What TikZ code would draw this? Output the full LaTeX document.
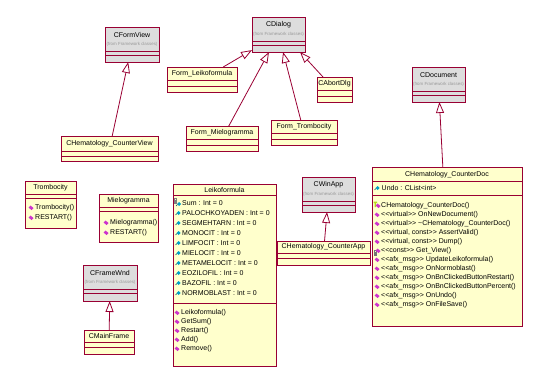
\documentclass[tikz,border=0pt]{standalone}
\usepackage{fontspec}
\setmainfont{Liberation Sans}
\usetikzlibrary{arrows.meta}
\definecolor{umlred}{HTML}{990033}
\definecolor{umlyellow}{HTML}{FFFFCC}
\definecolor{umlgray}{HTML}{DDDDDD}
\definecolor{umlmag}{HTML}{CC33CC}
\definecolor{umlteal}{HTML}{00A0C8}
\newcommand{\stereo}[1]{<\kern0pt<#1>\kern0pt> }
\newcommand{\opicon}[2]{\fill[umlmag] (#1,{#2}) ++(-2.5,-0.5) -- ++(2,-2) -- ++(3,2.5) -- ++(-2,2) -- cycle;}
\newcommand{\attricon}[2]{\fill[umlteal] (#1,{#2}) ++(-2,0) -- ++(2,-2) -- ++(2,2) -- ++(-2,2) -- cycle;
  \draw[umlteal!50!black, line width=0.5pt] (#1,{#2}) ++(-1.5,0.5) -- ++(-1.5,1.5);}
\tikzset{
  cls/.style={draw=umlred, fill=umlyellow, line width=0.8pt, anchor=north west, inner sep=0pt, outer sep=0pt},
  libcls/.style={cls, fill=umlgray},
  cname/.style={font=\fontsize{7}{8}\selectfont, inner sep=0pt},
  cfrom/.style={font=\fontsize{4.4}{5}\selectfont, text=black!40, inner sep=0pt},
  member/.style={font=\fontsize{7}{8}\selectfont, anchor=west, inner sep=0pt},
  compart/.style={draw=umlred, line width=0.8pt},
  gen/.style={draw=umlred, line width=0.8pt, -{Triangle[open, length=11pt, width=8pt]}}
}

\begin{document}
\begin{tikzpicture}[x=1pt, y=-1pt]
  \useasboundingbox (0,0) rectangle (548,382);
  \foreach \n/\x/\y/\w/\h in {formview/105/27/54/35, dialog/252/17/53/35, document/412/67/53/35, winapp/302/177/53/35, framewnd/83/265/54/36}
    \node[libcls, minimum width=\w pt, minimum height=\h pt] (\n) at (\x,\y) {};
  \foreach \n/\x/\y/\w/\h in {counterview/61/136/97/25, formleiko/167/67/70/25, formmielo/186/126/72/25, formtromb/271/120/66/25, abortdlg/317/77/35/25, counterdoc/372/167/150/159, leikoformula/173/184/103/182, counterapp/277/241/93/24, trombocity/25/181/51/47, mielogramma/99/194/59/48, mainframe/84/330/50/24}
    \node[cls, minimum width=\w pt, minimum height=\h pt] (\n) at (\x,\y) {};
  \foreach \xa/\xb/\y in {105/159/51, 105/159/55, 252/305/41, 252/305/45, 412/465/91, 412/465/95, 302/355/201, 302/355/205, 83/137/289, 83/137/293, 61/158/151, 61/158/156, 167/237/80, 167/237/86, 186/258/139, 186/258/145, 271/337/133, 271/337/139, 317/352/90, 317/352/96, 372/522/181, 372/522/195, 173/276/195, 173/276/303, 277/370/253, 277/370/258, 25/76/194, 25/76/198, 99/158/207, 99/158/211, 84/134/342, 84/134/347}
    \draw[compart] (\xa,\y) -- (\xb,\y);

  \foreach \n/\x/\y/\t in {formview/132/35/CFormView, dialog/278.5/25/CDialog, document/438.5/75/CDocument, winapp/328.5/185/CWinApp, framewnd/110/273/CFrameWnd} {
    \node[cname] (\n-name) at (\x,\y) {\t};
    \node[cfrom] (\n-from) at (\x,{\y+9}) {(from Framework classes)};
  }
  \foreach \n/\x/\y/\t in {counterview/109.5/144/CHematology\_CounterView, formleiko/202/74/Form\_Leikoformula, formmielo/222/132.5/Form\_Mielogramma, formtromb/304/127/Form\_Trombocity, abortdlg/334.5/84/CAbortDlg, counterdoc/447/175/CHematology\_CounterDoc, leikoformula/224.5/190/Leikoformula, counterapp/323.5/247/CHematology\_CounterApp, trombocity/50.5/188/Trombocity, mielogramma/128.5/201/Mielogramma, mainframe/109/336/CMainFrame}
    \node[cname] (\n-name) at (\x,\y) {\t};

  \foreach \t [count=\i from 0] in {Trombocity(), RESTART()} {
    \opicon{31}{208+10*\i}
    \node[member] (trombop\i) at (35,{208+10*\i}) {\t};
  }
  \foreach \t [count=\i from 0] in {Mielogramma(), RESTART()} {
    \opicon{106}{223+10*\i}
    \node[member] (mielop\i) at (110,{223+10*\i}) {\t};
  }

  \foreach \t [count=\i from 0] in {Sum : Int = 0, PALOCHKOYADEN : Int = 0, SEGMEHTARN : Int = 0, MONOCIT : Int = 0, LIMFOCIT : Int = 0, MIELOCIT : Int = 0, METAMELOCIT : Int = 0, EOZILOFIL : Int = 0, BAZOFIL : Int = 0, NORMOBLAST : Int = 0}
    \node[member] (leikoattr\i) at (182,{203+10*\i}) {\t};
  \foreach \i in {1,...,9} { \attricon{178.5}{203+10*\i} }
  \fill[black!50] (173.5,200) rectangle (177,203.5);
  \draw[black!50, line width=0.5pt] (174.2,200) -- (174.2,198.3) -- (176.3,198.3) -- (176.3,200);
  \attricon{179}{204}
  \foreach \t [count=\i from 0] in {Leikoformula(), GetSum(), Restart(), Add(), Remove()} {
    \opicon{177}{313+9*\i}
    \node[member] (leikoop\i) at (181,{313+9*\i}) {\t};
  }

  \attricon{377.5}{188}
  \node[member] (docattr) at (381.5,188) {Undo : CList<int>};
  \foreach \t [count=\i from 0] in {CHematology\_CounterDoc(), {\stereo{virtual}OnNewDocument()}, {\stereo{virtual}\textasciitilde CHematology\_CounterDoc()}, {\stereo{virtual, const}AssertValid()}, {\stereo{virtual, const}Dump()}, {\stereo{const}Get\_View()}, {\stereo{afx\_msg}UpdateLeikoformula()}, {\stereo{afx\_msg}OnNormoblast()}, {\stereo{afx\_msg}OnBnClickedButtonRestart()}, {\stereo{afx\_msg}OnBnClickedButtonPercent()}, {\stereo{afx\_msg}OnUndo()}, {\stereo{afx\_msg}OnFileSave()}}
    \node[member] (docop\i) at (381,{206+9*\i}) {\t};
  \foreach \i in {1,2,3,4,6,7,8,9,10,11} { \opicon{377}{206+9*\i} }
  \fill[yellow!70!green] (373.5,201.5) rectangle (377,203) (374.6,203) rectangle (375.9,207);
  \opicon{378}{206}
  \fill[black!55] (373.5,252) rectangle (377,255.5);
  \draw[black!55, line width=0.5pt] (374.2,252) -- (374.2,250.3) -- (376.3,250.3) -- (376.3,252);
  \opicon{378}{251}

  \draw[gen] (counterview) -- (formview);
  \draw[gen] (formleiko) -- (dialog);
  \draw[gen] (formmielo) -- (dialog);
  \draw[gen] (formtromb) -- (dialog);
  \draw[gen] ([xshift=6pt]abortdlg.north west) -- ([xshift=-5pt]dialog.south east);
  \draw[gen] (counterdoc) -- (document);
  \draw[gen] (counterapp) -- (winapp);
  \draw[gen] (mainframe) -- (framewnd);
\end{tikzpicture}
\end{document}
